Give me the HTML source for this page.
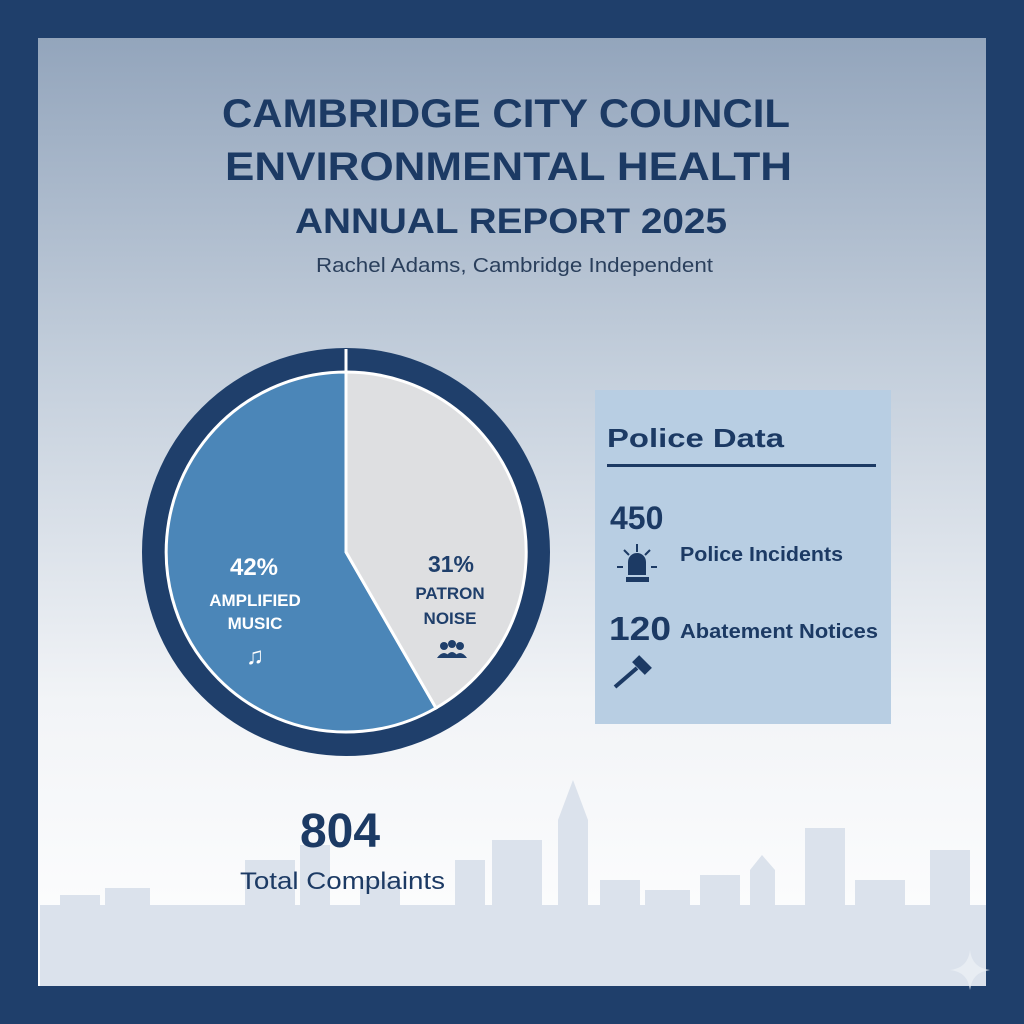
<!DOCTYPE html>
<html><head><meta charset="utf-8"><style>
body{margin:0;width:1024px;height:1024px;overflow:hidden;background:#1f3f6b}
svg{display:block}
text{font-family:"Liberation Sans",sans-serif}
</style></head><body>
<svg width="1024" height="1024" viewBox="0 0 1024 1024">
<defs>
<linearGradient id="bg" x1="0" y1="0" x2="0" y2="1">
<stop offset="0" stop-color="#93a5bc"/>
<stop offset="0.35" stop-color="#c4cfdc"/>
<stop offset="0.7" stop-color="#f2f4f7"/>
<stop offset="1" stop-color="#ffffff"/>
</linearGradient>
</defs>
<rect x="0" y="0" width="1024" height="1024" fill="#1f3f6b"/>
<rect x="38" y="38" width="948" height="948" fill="url(#bg)"/>
<g fill="#dbe2ec">
<rect x="40" y="905" width="946" height="81"/>
<rect x="60" y="895" width="40" height="91"/>
<rect x="105" y="888" width="45" height="98"/>
<rect x="245" y="860" width="50" height="126"/>
<rect x="300" y="845" width="30" height="141"/>
<rect x="360" y="880" width="40" height="106"/>
<rect x="455" y="860" width="30" height="126"/>
<rect x="492" y="840" width="50" height="146"/>
<rect x="558" y="820" width="30" height="166"/>
<polygon points="558,820 573,780 588,820"/>
<rect x="600" y="880" width="40" height="106"/>
<rect x="645" y="890" width="45" height="96"/>
<rect x="700" y="875" width="40" height="111"/>
<rect x="750" y="870" width="25" height="116"/>
<polygon points="750,870 762,855 775,870"/>
<rect x="805" y="828" width="40" height="158"/>
<rect x="855" y="880" width="50" height="106"/>
<rect x="930" y="850" width="40" height="136"/>
<rect x="165" y="910" width="70" height="76"/>
</g>
<g fill="#1c3a64" font-weight="bold">
<text x="222" y="127" font-size="40" textLength="568" lengthAdjust="spacingAndGlyphs">CAMBRIDGE CITY COUNCIL</text>
<text x="225" y="180" font-size="40" textLength="567" lengthAdjust="spacingAndGlyphs">ENVIRONMENTAL HEALTH</text>
<text x="295" y="233" font-size="35" textLength="432" lengthAdjust="spacingAndGlyphs">ANNUAL REPORT 2025</text>
</g>
<text x="316" y="272" font-size="20" fill="#2a3f5c" textLength="397" lengthAdjust="spacingAndGlyphs">Rachel Adams, Cambridge Independent</text>
<circle cx="346" cy="552" r="192" fill="none" stroke="#1f3f6b" stroke-width="24"/>
<path d="M346,552 L436,708 A180,180 0 1 1 346,372 Z" fill="#4b86b8" stroke="#fff" stroke-width="3"/>
<path d="M346,552 L346,372 A180,180 0 0 1 436,708 Z" fill="#dedfe1" stroke="#fff" stroke-width="3"/>
<line x1="346" y1="349" x2="346" y2="372" stroke="#fff" stroke-width="3"/>
<g fill="#fff" font-weight="bold" text-anchor="middle">
<text x="254" y="575" font-size="24">42%</text>
<text x="255" y="606" font-size="17">AMPLIFIED</text>
<text x="255" y="629" font-size="17">MUSIC</text>
<text x="255" y="664" font-size="24">♫</text>
</g>
<g fill="#1f3f6b" font-weight="bold" text-anchor="middle">
<text x="451" y="572" font-size="23">31%</text>
<text x="450" y="599" font-size="17">PATRON</text>
<text x="450" y="624" font-size="17">NOISE</text>
<circle cx="444" cy="646" r="4"/><circle cx="452" cy="644" r="4"/><circle cx="460" cy="646" r="4"/>
<path d="M437,658 q7,-10 14,0 z M445,658 q7,-12 14,0 z M453,658 q7,-10 14,0z"/>
</g>
<rect x="595" y="390" width="296" height="334" fill="#b8cee3"/>
<g fill="#1c3a64">
<text x="607" y="447" font-size="26" font-weight="bold" textLength="177" lengthAdjust="spacingAndGlyphs">Police Data</text>
<rect x="607" y="464" width="269" height="3"/>
<text x="610" y="529" font-size="32" font-weight="bold">450</text>
<text x="680" y="561" font-size="20" font-weight="bold" textLength="163" lengthAdjust="spacingAndGlyphs">Police Incidents</text>
<path d="M628,575 L628,562 a9,9 0 0 1 18,0 L646,575 Z"/>
<rect x="626" y="577" width="23" height="5"/>
<rect x="636" y="544" width="2" height="8"/>
<rect x="617" y="566" width="6" height="2"/><rect x="651" y="566" width="6" height="2"/>
<line x1="624" y1="550" x2="629" y2="555" stroke="#1c3a64" stroke-width="2"/>
<line x1="650" y1="550" x2="645" y2="555" stroke="#1c3a64" stroke-width="2"/>
<text x="609" y="640" font-size="33" font-weight="bold" textLength="62" lengthAdjust="spacingAndGlyphs">120</text>
<text x="680" y="638" font-size="20" font-weight="bold" textLength="198" lengthAdjust="spacingAndGlyphs">Abatement Notices</text>
<line x1="615" y1="687" x2="637" y2="668" stroke="#1c3a64" stroke-width="4"/>
<rect x="633" y="660" width="18" height="10" transform="rotate(45 642 665)"/>
</g>
<text x="340" y="847" font-size="48" font-weight="bold" fill="#1c3a64" text-anchor="middle">804</text>
<text x="240" y="889" font-size="24" fill="#1c3a64" textLength="205" lengthAdjust="spacingAndGlyphs">Total Complaints</text>
<path d="M970,950 Q972,968 990,970 Q972,972 970,990 Q968,972 950,970 Q968,968 970,950Z" fill="#e8edf3"/>
</svg>
</body></html>
